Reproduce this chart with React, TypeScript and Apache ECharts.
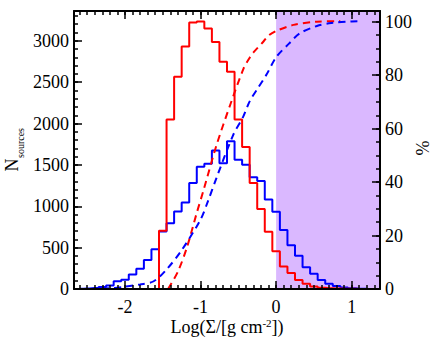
import React, { useEffect, useRef } from "react";
import * as echarts from "echarts";

// Histogram bin centres (log Sigma) and counts
const redCenters = [-1.6, -1.5, -1.4, -1.3, -1.2, -1.1, -1.0, -0.9, -0.8, -0.7, -0.6, -0.5, -0.4, -0.3, -0.2, -0.1, 0.0, 0.1, 0.2, 0.3, 0.4, 0.5, 0.6, 0.7, 0.8, 0.9, 1.0, 1.1];
const redCounts = [0, 705, 2050, 2565, 2930, 3220, 3232, 3150, 2985, 2747, 2626, 2050, 1717, 1280, 968, 693, 455, 272, 194, 108, 63, 30, 15, 8, 5, 3, 2, 1];

const blueCenters = [-2.6, -2.5, -2.4, -2.3, -2.2, -2.1, -2.0, -1.9, -1.8, -1.7, -1.6, -1.5, -1.4, -1.3, -1.2, -1.1, -1.0, -0.9, -0.8, -0.7, -0.6, -0.5, -0.4, -0.3, -0.2, -0.1, 0.0, 0.1, 0.2, 0.3, 0.4, 0.5, 0.6, 0.7, 0.8, 0.9, 1.0, 1.1, 1.2];
const blueCounts = [2, 5, 13, 25, 41, 95, 113, 174, 244, 350, 480, 695, 795, 937, 1046, 1280, 1478, 1515, 1673, 1521, 1786, 1563, 1501, 1350, 1305, 1083, 935, 712, 528, 403, 262, 185, 110, 62, 35, 18, 8, 4, 2];

// Cumulative fractions (%)
const redCdfX = [-1.43, -1.3, -1.18, -1.05, -0.96, -0.79, -0.6, -0.43, -0.35, -0.3, -0.17, -0.1, 0.0, 0.23, 0.54, 0.85];
const redCdfY = [0, 6.5, 15.6, 28.5, 37, 53.7, 69.5, 82.5, 86.5, 88.5, 92.5, 94.8, 96.5, 98.8, 100, 100.2];
const blueCdfX = [-2.62, -2.2, -2.02, -1.8, -1.62, -1.45, -1.25, -1.0, -0.9, -0.79, -0.57, -0.435, -0.35, -0.24, -0.125, 0.0, 0.17, 0.31, 0.54, 0.73, 1.0, 1.11];
const blueCdfY = [0, 0.3, 0.8, 1.7, 2.9, 7.3, 14.5, 26, 33, 41.5, 57.5, 64.5, 70.2, 75.2, 80.3, 86.7, 91.8, 95.6, 98.4, 99.5, 100.1, 100.2];

// Axis extents and ticks
const X_MIN = -2.675;
const X_MAX = 1.375;
const xMajor = [-2, -1, 0, 1];
const xMinor: number[] = [];
for (let i = -26; i <= 13; i++) xMinor.push(i / 10);
const shadeFrom = 0;

const N_MAX = 3360;
const nMajor = [0, 500, 1000, 1500, 2000, 2500, 3000];
const nMinor: number[] = [];
for (let v = 0; v <= 3300; v += 100) nMinor.push(v);

const P_MAX = 104;
const pMajor = [0, 20, 40, 60, 80, 100];
const pMinor: number[] = [];
for (let v = 0; v <= 100; v += 5) pMinor.push(v);

const FONT = "'Liberation Serif', 'Times New Roman', serif";

function pairs(xs: number[], ys: number[]) {
  return xs.map((x, i) => [x, ys[i]]);
}

export default function App() {
  const ref = useRef<HTMLDivElement>(null);
  useEffect(() => {
    if (!ref.current) return;
    const chart = echarts.init(ref.current, null, { renderer: "svg" });
    const lineMajor = { show: true, onZero: false, lineStyle: { color: "#000", width: 2 } };
    const lineNone = { show: false, onZero: false };
    const lbl = { fontFamily: FONT, fontSize: 18, color: "#000" };
    const xBase = (position: string, show: boolean, major: boolean) => ({
      type: "value",
      position,
      min: X_MIN,
      max: X_MAX,
      z: 5,
      axisLine: major ? lineMajor : lineNone,
      splitLine: { show: false },
      axisTick: {
        show: true,
        inside: true,
        length: major ? 8 : 4,
        customValues: major ? xMajor : xMinor,
        lineStyle: { color: "#000", width: 1.5 },
      },
      axisLabel: show
        ? { ...lbl, customValues: xMajor, margin: 9, formatter: (v: number) => String(Math.round(v)) }
        : { show: false },
    });
    const yBase = (position: string, max: number, major: number[], minor: number[], isMajor: boolean, show: boolean, margin: number) => ({
      type: "value",
      position,
      min: 0,
      max,
      z: 5,
      axisLine: isMajor ? lineMajor : lineNone,
      splitLine: { show: false },
      axisTick: {
        show: true,
        inside: true,
        length: isMajor ? 8 : 4,
        customValues: isMajor ? major : minor,
        lineStyle: { color: "#000", width: 1.5 },
      },
      axisLabel: show
        ? { ...lbl, customValues: major, margin, formatter: (v: number) => String(Math.round(v)) }
        : { show: false },
    });

    chart.setOption({
      animation: false,
      textStyle: { fontFamily: FONT },
      grid: { left: 74, right: 56, top: 11, bottom: 69, containLabel: false },
      xAxis: [
        xBase("bottom", true, true),
        xBase("bottom", false, false),
        xBase("top", false, true),
        xBase("top", false, false),
      ],
      yAxis: [
        yBase("left", N_MAX, nMajor, nMinor, true, true, 5),
        yBase("right", P_MAX, pMajor, pMinor, true, true, 5),
        yBase("left", N_MAX, nMajor, nMinor, false, false, 5),
        yBase("right", P_MAX, pMajor, pMinor, false, false, 5),
      ],
      series: [
        {
          type: "line",
          name: "blueHist",
          xAxisIndex: 0,
          yAxisIndex: 0,
          step: "middle",
          symbol: "none",
          data: pairs(blueCenters, blueCounts),
          lineStyle: { color: "#0000ff", width: 2 },
          itemStyle: { color: "#0000ff" },
          markArea: {
            silent: true,
            itemStyle: { color: "#dab8ff", opacity: 1 },
            data: [[{ xAxis: shadeFrom }, { xAxis: X_MAX }]],
          },
        },
        {
          type: "line",
          name: "redHist",
          xAxisIndex: 0,
          yAxisIndex: 0,
          step: "middle",
          symbol: "none",
          data: pairs(redCenters, redCounts),
          lineStyle: { color: "#ff0000", width: 2 },
          itemStyle: { color: "#ff0000" },
        },
        {
          type: "line",
          name: "redCdf",
          xAxisIndex: 0,
          yAxisIndex: 1,
          smooth: 0.3,
          symbol: "none",
          data: pairs(redCdfX, redCdfY),
          lineStyle: { color: "#ff0000", width: 2, type: [7, 5] },
          itemStyle: { color: "#ff0000" },
        },
        {
          type: "line",
          name: "blueCdf",
          xAxisIndex: 0,
          yAxisIndex: 1,
          smooth: 0.3,
          symbol: "none",
          data: pairs(blueCdfX, blueCdfY),
          lineStyle: { color: "#0000ff", width: 2, type: [7, 5] },
          itemStyle: { color: "#0000ff" },
        },
      ],
      graphic: [
        {
          type: "text",
          x: 227,
          y: 327,
          style: {
            text: "{a|Log(Σ/[g cm}{b|-2}{a|])}",
            align: "center",
            verticalAlign: "middle",
            fill: "#000",
            rich: {
              a: { fontFamily: FONT, fontSize: 18, fill: "#000" },
              b: { fontFamily: FONT, fontSize: 11, fill: "#000", padding: [0, 0, 9, 0] },
            },
          },
        },
        {
          type: "text",
          x: 11.5,
          y: 165,
          rotation: Math.PI / 2,
          style: { text: "N", fontFamily: FONT, fontSize: 18, fill: "#000", align: "center", verticalAlign: "middle" },
        },
        {
          type: "text",
          x: 20,
          y: 143,
          rotation: Math.PI / 2,
          style: { text: "sources", fontFamily: FONT, fontSize: 10, fill: "#000", align: "center", verticalAlign: "middle" },
        },
        {
          type: "text",
          x: 423,
          y: 148,
          rotation: Math.PI / 2,
          style: { text: "%", fontFamily: FONT, fontSize: 18, fill: "#000", align: "center", verticalAlign: "middle" },
        },
      ],
    });
    return () => chart.dispose();
  }, []);
  return (
    <div
      ref={ref}
      style={{ position: "fixed", left: 0, top: 0, width: 436, height: 358, background: "#fff" }}
    />
  );
}
